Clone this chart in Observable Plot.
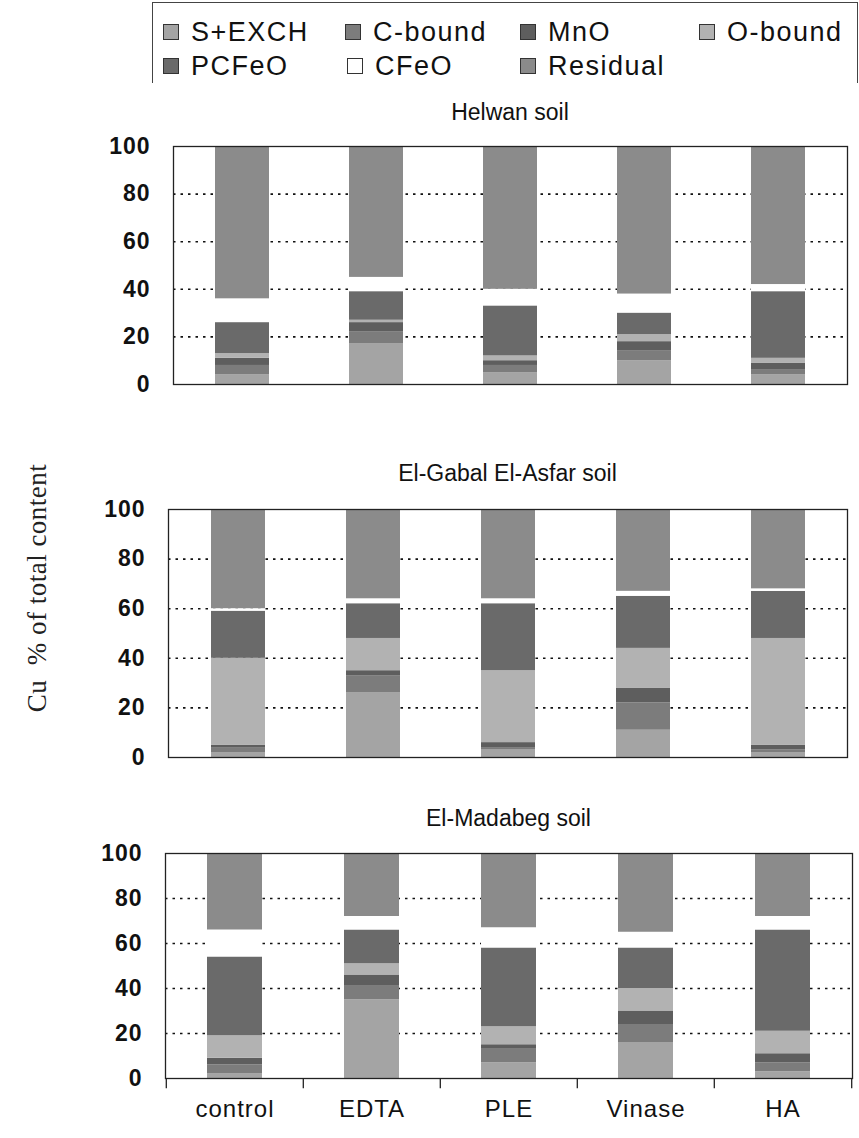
<!DOCTYPE html>
<html>
<head>
<meta charset="utf-8">
<script src="https://cdn.jsdelivr.net/npm/d3@7"></script>
<script src="https://cdn.jsdelivr.net/npm/@observablehq/plot@0.6"></script>
<style>
  body { margin: 0; background: #fff; font-family: "Liberation Sans", Arial, sans-serif; }
  #page { position: relative; width: 859px; height: 1138px; overflow: hidden; background: #fff; }
  .abs { position: absolute; }
  .title { position: absolute; text-align: center; font-size: 23px; color: #111; white-space: nowrap; }
  .leg-sw { position: absolute; width: 16px; height: 16px; border: 1px solid #333; box-sizing: border-box; }
  .leg-tx { position: absolute; font-size: 27px; letter-spacing: 1.5px; color: #111; white-space: nowrap; line-height: 30px; }
  .ytitle { position: absolute; font-family: "Liberation Serif", "Times New Roman", serif; font-size: 27px; letter-spacing: 0.5px; color: #222;
            transform: translate(-50%, -50%) rotate(-90deg); white-space: pre; }
</style>
</head>
<body>
<div id="page"></div>
<script>
// ---- data ----
const treatments = ["control", "EDTA", "PLE", "Vinase", "HA"];
const fractions = ["S+EXCH", "C-bound", "MnO", "O-bound", "PCFeO", "CFeO", "Residual"];
const fractionColors = ["#a4a4a4", "#7c7c7c", "#5e5e5e", "#b2b2b2", "#6a6a6a", "#ffffff", "#8b8b8b"];
const soilTitles = ["Helwan soil", "El-Gabal El-Asfar soil", "El-Madabeg soil"];
const yTicks = [0, 20, 40, 60, 80, 100];
const gridValues = [20, 40, 60, 80];
const yTitle = "Cu  % of total content";

// rows: fractions (bottom to top), columns: treatments
const helwan = [
  [4, 17, 5, 10, 4],
  [4, 5, 3, 4, 2],
  [3, 4, 2, 4, 3],
  [2, 1, 2, 3, 2],
  [13, 12, 21, 9, 28],
  [10, 6, 7, 8, 3],
  [64, 55, 60, 62, 58]
];
const elGabalElAsfar = [
  [2, 26, 3, 11, 2],
  [2, 7, 1, 11, 1],
  [1, 2, 2, 6, 2],
  [35, 13, 29, 16, 43],
  [19, 14, 27, 21, 19],
  [1, 2, 2, 2, 1],
  [40, 36, 36, 33, 32]
];
const elMadabeg = [
  [2, 35, 7, 16, 3],
  [4, 6, 6, 8, 4],
  [3, 5, 2, 6, 4],
  [10, 5, 8, 10, 10],
  [35, 15, 35, 18, 45],
  [12, 6, 9, 7, 6],
  [34, 28, 33, 35, 28]
];

// ---- layout ----
const page = document.getElementById("page");
const FONT = '"Liberation Sans", Arial, sans-serif';

// legend
const legend = document.createElement("div");
legend.className = "abs";
Object.assign(legend.style, { left: "152px", top: "2px", width: "704px", height: "80px",
  borderTop: "1px solid #444", borderLeft: "1px solid #444", borderRight: "1px solid #444" });
page.appendChild(legend);
// [swatch x, row center y] relative to the legend box
const legendPos = [[10, 29], [192, 29], [367, 29], [546, 29], [10, 63], [194, 63], [367, 63]];
fractions.forEach((f, i) => {
  const [lx, ly] = legendPos[i];
  const sw = document.createElement("div");
  sw.className = "leg-sw";
  sw.style.left = lx + "px";
  sw.style.top = (ly - 8) + "px";
  sw.style.background = fractionColors[i];
  legend.appendChild(sw);
  const t = document.createElement("div");
  t.className = "leg-tx";
  t.textContent = f;
  t.style.left = (lx + 28) + "px";
  t.style.top = (ly - 15) + "px";
  legend.appendChild(t);
});

// y title
const yt = document.createElement("div");
yt.className = "ytitle";
yt.textContent = yTitle;
yt.style.left = "37px";
yt.style.top = "588px";
page.appendChild(yt);

function panel(values, title, cfg) {
  const data = [];
  fractions.forEach((f, i) => treatments.forEach((t, j) => data.push({ treatment: t, fraction: f, value: values[i][j] })));
  const width = 859;
  const marginTop = 16;
  const marginBottom = cfg.showX ? 56 : 12;
  const plotW = width - cfg.left - cfg.right;
  const step = plotW / treatments.length;
  const marks = [
    Plot.ruleY(gridValues, { stroke: "#111", strokeDasharray: "2.5,5", strokeWidth: 1.6 }),
    Plot.barY(data, { x: "treatment", y: "value", fill: "fraction", order: fractions }),
    Plot.frame({ stroke: "#222", strokeWidth: 1.3 }),
    Plot.axisY(yTicks, { tickSize: 0, tickPadding: 23, fontSize: 23, fontWeight: "bold", fill: "#111", label: null })
  ];
  if (cfg.showX) {
    marks.push(Plot.axisX({ tickSize: 0, tickPadding: 21, fontSize: 24, fill: "#111", label: null }));
    marks.push(Plot.ruleX(treatments, { x: d => d, dx: -step / 2, y1: 0, y2: -4.5, stroke: "#222", strokeWidth: 1.3 }));
    marks.push(Plot.ruleX(treatments.slice(-1), { x: d => d, dx: step / 2, y1: 0, y2: -4.5, stroke: "#222", strokeWidth: 1.3 }));
  }
  const svg = Plot.plot({
    width,
    height: marginTop + cfg.frameH + marginBottom,
    marginLeft: cfg.left, marginRight: cfg.right, marginTop, marginBottom,
    style: { fontFamily: FONT, background: "transparent", overflow: "visible", letterSpacing: "1px" },
    x: { domain: treatments, paddingInner: 0.6, paddingOuter: 0.3, axis: null },
    y: { domain: [0, 100], axis: null },
    color: { domain: fractions, range: fractionColors },
    marks
  });
  svg.style.position = "absolute";
  svg.style.left = "0px";
  svg.style.top = (cfg.frameTop - marginTop) + "px";
  page.appendChild(svg);

  const tt = document.createElement("div");
  tt.className = "title";
  tt.textContent = title;
  tt.style.left = cfg.left + "px";
  tt.style.width = plotW + "px";
  tt.style.top = (cfg.titleY - 13) + "px";
  tt.style.lineHeight = "26px";
  page.appendChild(tt);
}

panel(helwan, soilTitles[0], { left: 173, right: 12, frameTop: 146, frameH: 238, titleY: 112, showX: false });
panel(elGabalElAsfar, soilTitles[1], { left: 168, right: 12, frameTop: 509, frameH: 248, titleY: 473, showX: false });
panel(elMadabeg, soilTitles[2], { left: 165, right: 7, frameTop: 853, frameH: 225, titleY: 818, showX: true });
</script>
</body>
</html>
